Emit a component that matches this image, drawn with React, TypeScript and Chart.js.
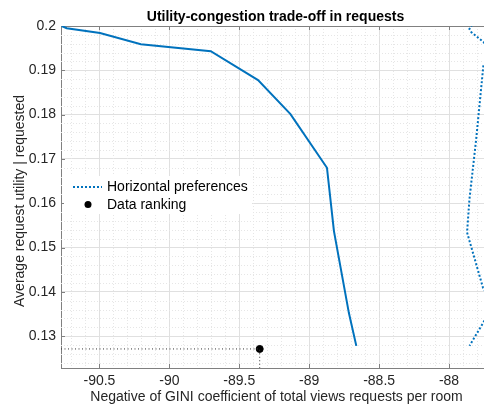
import React, { useEffect, useRef } from 'react';
import { Chart, registerables } from 'chart.js';
Chart.register(...registerables);

const titleText = 'Utility-congestion trade-off in requests';
const xTitle = 'Negative of GINI coefficient of total views requests per room';
const yTitle = 'Average request utility | requested';
const legendLabels = ['Horizontal preferences', 'Data ranking'];

const xTicks = [-90.5, -90, -89.5, -89, -88.5, -88];
const yTicks = [0.13, 0.14, 0.15, 0.16, 0.17, 0.18, 0.19, 0.2];
const xMin = -90.775;
const xMax = -87.707;
const yMin = 0.1228;
const yMax = 0.2;
const xMinorStep = 0.1;
const yMinorStep = 0.002;

const frontierX = [-90.77, -90.734, -90.496, -90.204, -89.704, -89.366, -89.134, -88.873, -88.823, -88.716, -88.663];
const frontierY = [0.2, 0.1995, 0.1984, 0.1959, 0.1943, 0.1878, 0.1801, 0.168, 0.1537, 0.1352, 0.1278];

const horizX = [-87.835, -87.854, -87.84, -87.754, -87.66, -87.754, -87.806, -87.854, -87.871, -87.757, -87.68, -87.754, -87.854];
const horizY = [0.2003, 0.1993, 0.1986, 0.1964, 0.193, 0.1912, 0.1744, 0.1609, 0.1534, 0.1409, 0.137, 0.1331, 0.1278];

const rankX = [-89.354];
const rankY = [0.1271];

const FONT = "'Liberation Sans', Arial, Helvetica, sans-serif";
const BLUE = '#0072BD';

const decorPlugin = {
  id: 'decor',
  beforeDatasetsDraw(chart: any) {
    const { ctx, chartArea: a, scales } = chart;
    const xs = scales.x, ys = scales.y;
    ctx.save();
    ctx.strokeStyle = '#e6e6e6';
    ctx.lineWidth = 1;
    ctx.setLineDash([1, 2]);
    for (let i = Math.ceil(xMin / xMinorStep); i * xMinorStep <= xMax; i++) {
      const v = i * xMinorStep;
      if (Math.abs(v * 2 - Math.round(v * 2)) < 1e-6) continue;
      const px = Math.round(xs.getPixelForValue(v)) + 0.5;
      ctx.beginPath(); ctx.moveTo(px, a.top); ctx.lineTo(px, a.bottom); ctx.stroke();
    }
    for (let i = Math.ceil(yMin / yMinorStep); i * yMinorStep <= yMax + 1e-9; i++) {
      const v = i * yMinorStep;
      if (Math.abs(v * 100 - Math.round(v * 100)) < 1e-6) continue;
      const py = Math.round(ys.getPixelForValue(v)) + 0.5;
      ctx.beginPath(); ctx.moveTo(a.left, py); ctx.lineTo(a.right, py); ctx.stroke();
    }
    ctx.setLineDash([]);
    // top border
    ctx.strokeStyle = '#808080';
    ctx.beginPath(); ctx.moveTo(a.left, a.top + 0.5); ctx.lineTo(a.right, a.top + 0.5); ctx.stroke();
    // inward tick marks
    xTicks.forEach((v) => {
      const px = Math.round(xs.getPixelForValue(v)) + 0.5;
      ctx.beginPath(); ctx.moveTo(px, a.bottom); ctx.lineTo(px, a.bottom - 4); ctx.stroke();
      ctx.beginPath(); ctx.moveTo(px, a.top); ctx.lineTo(px, a.top + 4); ctx.stroke();
    });
    yTicks.forEach((v) => {
      const py = Math.round(ys.getPixelForValue(v)) + 0.5;
      ctx.beginPath(); ctx.moveTo(a.left, py); ctx.lineTo(a.left + 4, py); ctx.stroke();
    });
    ctx.restore();
  },
  afterDraw(chart: any) {
    const { ctx, chartArea: a } = chart;
    ctx.save();
    // title
    ctx.fillStyle = '#000';
    ctx.font = `bold 14px ${FONT}`;
    ctx.textAlign = 'center';
    ctx.textBaseline = 'middle';
    ctx.fillText(titleText, (a.left + a.right) / 2, 17);
    // axis titles
    ctx.fillStyle = '#262626';
    ctx.font = `14px ${FONT}`;
    ctx.fillText(xTitle, (a.left + a.right) / 2 + 1, 397);
    ctx.save();
    ctx.translate(20, 201);
    ctx.rotate(-Math.PI / 2);
    ctx.fillText(yTitle, 0, 0);
    ctx.restore();
    // legend
    ctx.fillStyle = '#ffffff';
    ctx.fillRect(64, 176, 188, 38);
    ctx.strokeStyle = BLUE;
    ctx.lineWidth = 2;
    ctx.setLineDash([2, 2]);
    ctx.beginPath(); ctx.moveTo(73, 187); ctx.lineTo(102, 187); ctx.stroke();
    ctx.setLineDash([]);
    ctx.fillStyle = '#000';
    ctx.beginPath(); ctx.arc(88, 204.5, 3.5, 0, Math.PI * 2); ctx.fill();
    ctx.fillStyle = '#000';
    ctx.font = `14px ${FONT}`;
    ctx.textAlign = 'left';
    ctx.fillText(legendLabels[0], 107, 187);
    ctx.fillText(legendLabels[1], 107, 205);
    ctx.restore();
  },
};

export default function App() {
  const ref = useRef<HTMLCanvasElement>(null);
  useEffect(() => {
    if (!ref.current) return;
    const toPts = (xs: number[], ys: number[]) => xs.map((x, i) => ({ x, y: ys[i] }));
    const chart = new Chart(ref.current, {
      type: 'scatter',
      data: {
        datasets: [
          {
            label: 'Frontier',
            data: toPts(frontierX, frontierY),
            showLine: true,
            borderColor: BLUE,
            borderWidth: 2,
            pointRadius: 0,
          },
          {
            label: legendLabels[0],
            data: toPts(horizX, horizY),
            showLine: true,
            borderColor: BLUE,
            borderWidth: 2,
            borderDash: [2, 2],
            pointRadius: 0,
          },
          {
            label: 'guides',
            data: [
              { x: xMin, y: rankY[0] },
              { x: rankX[0], y: rankY[0] },
              { x: rankX[0], y: yMin },
            ],
            showLine: true,
            borderColor: '#333',
            borderWidth: 1,
            borderDash: [1, 2.5],
            pointRadius: 0,
          },
          {
            label: legendLabels[1],
            data: toPts(rankX, rankY),
            showLine: false,
            backgroundColor: '#000',
            borderColor: '#000',
            pointRadius: 3.5,
          },
        ],
      },
      options: {
        animation: false,
        responsive: false,
        maintainAspectRatio: false,
        layout: { padding: { top: 26, right: 10, left: 0, bottom: 0 } },
        plugins: { legend: { display: false }, title: { display: false }, tooltip: { enabled: false } },
        scales: {
          x: {
            type: 'linear',
            min: xMin,
            max: xMax,
            afterBuildTicks: (s: any) => { s.ticks = xTicks.map((v) => ({ value: v })); },
            afterFit: (s: any) => { s.height = 40; },
            ticks: {
              padding: 5,
              color: '#262626',
              font: { family: FONT, size: 14 },
              maxRotation: 0,
              autoSkip: false,
              callback: (v: any) => String(Math.round(Number(v) * 10) / 10),
            },
            grid: { color: '#e0e0e0', drawTicks: false },
            border: { color: '#808080' },
          },
          y: {
            type: 'linear',
            min: yMin,
            max: yMax,
            afterBuildTicks: (s: any) => { s.ticks = yTicks.map((v) => ({ value: v })); },
            afterFit: (s: any) => { s.width = 61; },
            ticks: {
              padding: 5,
              color: '#262626',
              font: { family: FONT, size: 14 },
              autoSkip: false,
              callback: (v: any) => String(Math.round(Number(v) * 100) / 100),
            },
            grid: { color: '#e0e0e0', drawTicks: false },
            border: { color: '#808080' },
          },
        },
      },
      plugins: [decorPlugin],
    });
    return () => chart.destroy();
  }, []);
  return (
    <div style={{ position: 'fixed', left: 0, top: 0, width: 484, height: 408, overflow: 'hidden', background: '#fff' }}>
      <canvas ref={ref} width={500} height={408} style={{ display: 'block', width: 500, height: 408 }} />
    </div>
  );
}
